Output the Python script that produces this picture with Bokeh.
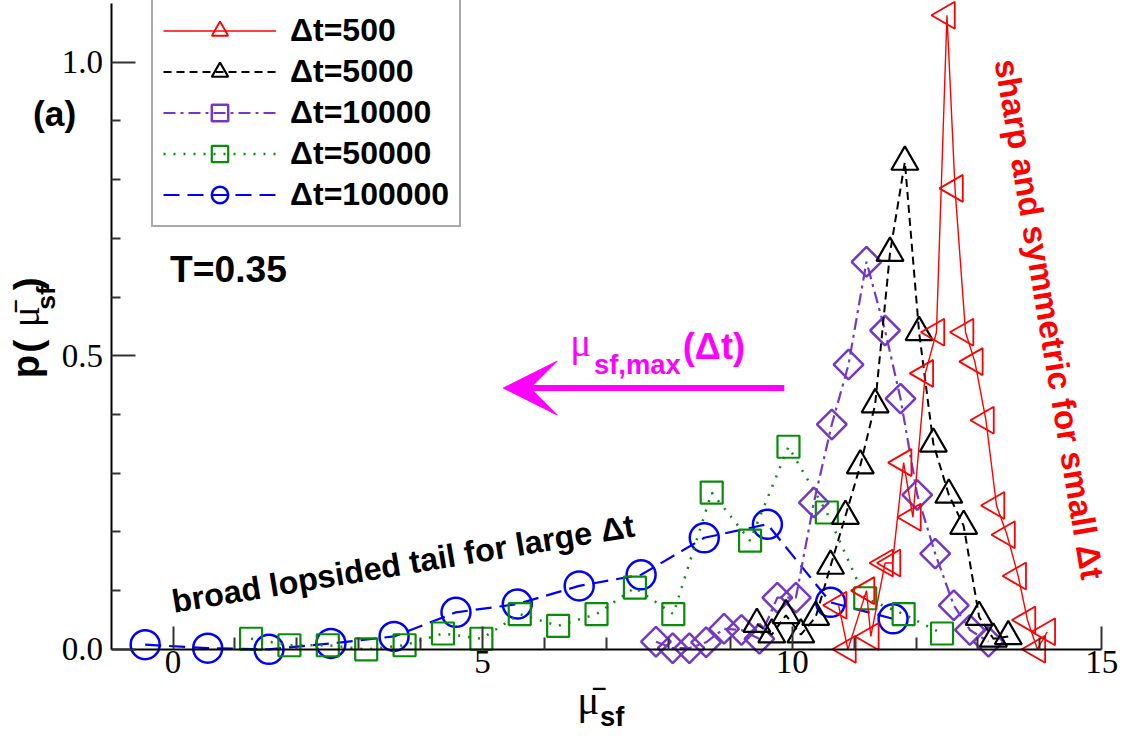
import numpy as np
from bokeh.plotting import figure
from bokeh.models import (Label, Legend, LegendItem, Arrow, VeeHead, FixedTicker,
                          Range1d, NumeralTickFormatter)
from bokeh.core.properties import value
from bokeh.embed import file_html
from bokeh.resources import INLINE

# ---------------- data ----------------
x_500 = [10.75, 10.9, 11.2, 11.27, 11.5, 11.62, 11.8, 11.95, 12.15, 12.33, 12.5,
         12.63, 12.8, 12.95, 13.13, 13.3, 13.47, 13.65, 13.8, 13.96, 14.12]
y_500 = [0.075, 0.0, 0.10, 0.022, 0.147, 0.147, 0.318, 0.225, 0.47, 0.54, 1.08,
         0.785, 0.54, 0.49, 0.39, 0.245, 0.195, 0.125, 0.05, 0.0, 0.03]

x_5000 = [9.43, 9.67, 9.9, 10.14, 10.38, 10.62, 10.86, 11.1, 11.34, 11.58, 11.82,
          12.05, 12.28, 12.53, 12.77, 13.02, 13.25, 13.49]
y_5000 = [0.043, 0.025, 0.058, 0.025, 0.055, 0.142, 0.227, 0.313, 0.417, 0.675, 0.83,
          0.54, 0.35, 0.263, 0.21, 0.055, 0.018, 0.022]

x_10000 = [7.8, 8.07, 8.34, 8.61, 8.9, 9.18, 9.47, 9.76, 10.06, 10.35, 10.64, 10.91,
           11.2, 11.5, 11.75, 12.02, 12.31, 12.61, 12.87, 13.17]
y_10000 = [0.013, 0.002, 0.002, 0.012, 0.035, 0.033, 0.018, 0.088, 0.088, 0.25, 0.383,
           0.485, 0.66, 0.543, 0.427, 0.263, 0.163, 0.075, 0.033, 0.013]

x_50000 = [1.26, 1.88, 2.5, 3.12, 3.74, 4.36, 4.98, 5.6, 6.22, 6.84, 7.46, 8.08,
           8.7, 9.32, 9.94, 10.56, 11.18, 11.8, 12.42]
y_50000 = [0.018, 0.007, 0.007, 0.0, 0.007, 0.027, 0.018, 0.06, 0.04, 0.06, 0.105, 0.06,
           0.267, 0.185, 0.345, 0.233, 0.087, 0.06, 0.027]

x_100000 = [-0.45, 0.56, 1.55, 2.55, 3.57, 4.57, 5.56, 6.56, 7.56, 8.58, 9.6, 10.62, 11.63]
y_100000 = [0.008, 0.002, 0.0, 0.01, 0.022, 0.063, 0.077, 0.108, 0.127, 0.19, 0.213, 0.08, 0.052]

legend_labels = ["Δt=500", "Δt=5000", "Δt=10000", "Δt=50000", "Δt=100000"]
x_ticks = [0, 5, 10, 15]
y_ticks = [0.0, 0.5, 1.0]
x_axis_bounds = (-1, 15)
y_axis_bounds = (0, 1.1)

# --------------- reference-pixel -> data helpers (annotation placement) ---------------
REF_W, REF_H = 1135, 749
W, H = 1119, 733          # figure size (fits the window with the 8 px page margin)
SX, SY = W / REF_W, H / REF_H
FS = 0.98                 # font scale


def dx(px):
    return (px - 175) / 62.8


def dy(py):
    return (663 - py) / 600.0


RED = "#FF0000"
PURPLE = "#7438C8"
GREEN = "#0A8C0A"
BLUE = "#0000FF"
MAGENTA = "#FF00FF"

# the frame covers the whole canvas; axes are drawn at fixed data locations
p = figure(width=W, height=H, output_backend="svg", toolbar_location=None,
           x_range=Range1d(dx(0), dx(REF_W)), y_range=Range1d(dy(REF_H), dy(0)),
           min_border_left=0, min_border_right=0, min_border_top=0,
           min_border_bottom=0)
p.grid.visible = False
p.outline_line_color = None
p.background_fill_color = "white"
p.border_fill_color = "white"

p.xaxis.fixed_location = y_axis_bounds[0]
p.xaxis.bounds = x_axis_bounds
p.yaxis.fixed_location = x_axis_bounds[0]
p.yaxis.bounds = y_axis_bounds

for ax in (p.xaxis[0], p.yaxis[0]):
    ax.axis_line_width = 2
    ax.axis_line_color = "black"
    ax.major_tick_out = 0
    ax.minor_tick_out = 0
    ax.major_tick_line_width = 2
    ax.minor_tick_line_width = 2
    ax.major_tick_line_color = "#333333"
    ax.minor_tick_line_color = "#333333"
    ax.major_label_text_font = "Liberation Serif"
    ax.major_label_text_font_size = "33px"
    ax.major_label_text_color = "black"

p.xaxis.ticker = FixedTicker(ticks=x_ticks, minor_ticks=[1, 2, 3, 4, 6, 7, 8, 9, 11, 12, 13, 14])
p.yaxis.ticker = FixedTicker(ticks=y_ticks, minor_ticks=[0.1, 0.2, 0.3, 0.4, 0.6, 0.7, 0.8, 0.9])
p.yaxis.formatter = NumeralTickFormatter(format="0.0")
p.xaxis.major_tick_in = 23
p.xaxis.minor_tick_in = 12
p.yaxis.major_tick_in = 24
p.yaxis.minor_tick_in = 9
p.xaxis.major_label_standoff = 2
p.yaxis.major_label_standoff = 8

# ---------------- series ----------------
l5 = p.line(x_100000, y_100000, line_color=BLUE, line_width=2.2, line_dash="16 8")
s5 = p.scatter(x_100000, y_100000, marker="circle", size=29, line_color=BLUE,
               fill_color=None, line_width=2.5)

l4 = p.line(x_50000, y_50000, line_color=GREEN, line_width=2.5, line_dash="2 8")
s4 = p.scatter(x_50000, y_50000, marker="square", size=22, line_color=GREEN,
               fill_color=None, line_width=2.2)

l3 = p.line(x_10000, y_10000, line_color=PURPLE, line_width=2.2, line_dash="12 5 3 5")
s3 = p.scatter(x_10000, y_10000, marker="square", angle=np.pi / 4, size=21,
               line_color=PURPLE, fill_color=None, line_width=2.5)

l2 = p.line(x_5000, y_5000, line_color="black", line_width=2, line_dash="8 5")
s2 = p.scatter(x_5000, y_5000, marker="triangle", size=27, line_color="black",
               fill_color=None, line_width=2.2)

l1 = p.line(x_500, y_500, line_color=RED, line_width=1.4)
s1 = p.scatter(x_500, y_500, marker="triangle", angle=np.pi / 2, size=27,
               line_color=RED, fill_color=None, line_width=1.8)

LEG_H = 2 * 10 + 5 * 41
legend = Legend(items=[
    LegendItem(label=value(legend_labels[0]), renderers=[l1, s1]),
    LegendItem(label=value(legend_labels[1]), renderers=[l2, s2]),
    LegendItem(label=value(legend_labels[2]), renderers=[l3, s3]),
    LegendItem(label=value(legend_labels[3]), renderers=[l4, s4]),
    LegendItem(label=value(legend_labels[4]), renderers=[l5, s5]),
], location=(round(153 * SX), H - round(2 * SY) - LEG_H))
legend.label_text_font = "Liberation Sans"
legend.label_text_font_style = "bold"
legend.label_text_font_size = "32px"
legend.label_text_color = "black"
legend.glyph_width = 113
legend.glyph_height = 41
legend.label_height = 41
legend.spacing = 0
legend.padding = 10
legend.label_standoff = 14
legend.margin = 0
legend.border_line_color = "#555555"
legend.border_line_width = 2
legend.background_fill_color = "white"
legend.background_fill_alpha = 1.0
p.add_layout(legend)


def lab(px, py, text, size, font="Liberation Sans", bold=True, color="black",
        angle=0.0):
    """(px, py): start of the text baseline in reference pixels."""
    off = 0.35 * size
    ax_ = px - off * np.sin(angle)
    ay_ = py - off * np.cos(angle)
    p.add_layout(Label(x=dx(ax_), y=dy(ay_), text=text, text_font=font,
                       text_font_size=f"{size * FS:.1f}px",
                       text_font_style="bold" if bold else "normal",
                       text_color=color, angle=angle, text_align="left",
                       text_baseline="middle"))


# panel tag and temperature
lab(33, 128, "(a)", 36)
lab(172, 288, "T=0.35", 38)

# arrow and its label
p.add_layout(Arrow(x_start=dx(795), y_start=dy(396), x_end=dx(510), y_end=dy(396),
                   line_color=MAGENTA, line_width=6,
                   end=VeeHead(size=54, fill_color=MAGENTA, line_color=MAGENTA)))
lab(578, 363, "μ", 40, font="Liberation Serif", bold=False, color=MAGENTA)
lab(602, 382, "sf,max", 28, color=MAGENTA)
lab(692, 366, "(Δt)", 37, color=MAGENTA)

# slanted annotations
lab(176, 626, "broad lopsided tail for large Δt", 33, angle=np.deg2rad(9.4))
lab(1008, 62, "sharp and symmetric for small Δt", 34, color=RED,
    angle=np.deg2rad(-80.5))

# x axis label
lab(585, 729, "μ\u0304", 42, font="Liberation Serif", bold=False)
lab(608, 741, "sf", 28)

# y axis label (rotated)
lab(39, 386, "p", 39, angle=np.pi / 2)
lab(41, 360, "(", 40, angle=np.pi / 2)
lab(39, 334, "μ\u0304", 40, font="Liberation Serif", bold=False, angle=np.pi / 2)
lab(56, 316, "sf", 27, angle=np.pi / 2)
lab(41, 296, ")", 40, angle=np.pi / 2)

open("out.html", "w").write(file_html(p, INLINE))
